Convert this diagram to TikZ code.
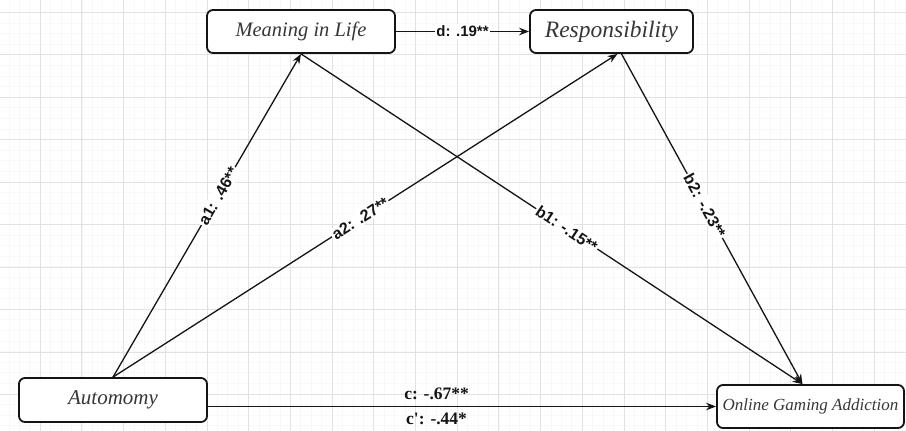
\documentclass[tikz,border=0pt]{standalone}
\usepackage{fontspec}
\setmainfont{Liberation Serif}
\newfontfamily\lblfont{Liberation Sans}
\usepackage{tikz}
\usetikzlibrary{arrows.meta, positioning, calc}
\definecolor{gMajor}{RGB}{226,226,226}
\definecolor{gMinor}{RGB}{248,248,248}
\definecolor{ink}{RGB}{20,20,20}

\begin{document}
\begin{tikzpicture}[x=1pt, y=-1pt,
  varbox/.style={draw=ink, line width=1.8pt, rounded corners=6pt, fill=white,
    inner sep=0pt, font=\itshape\fontsize{20.5}{24}\selectfont, text=ink!85},
  conn/.style={draw=ink, line width=1.3pt, -{Stealth[length=10pt, width=7.5pt]}},
  coef/.style={fill=white, inner sep=1.5pt, font=\lblfont\bfseries\fontsize{16}{18}\selectfont, text=ink},
  coefc/.style={inner sep=1pt, font=\bfseries\fontsize{17.5}{20}\selectfont, text=ink}]
  \useasboundingbox (0,0) rectangle (906,431);
  \fill[white] (0,0) rectangle (906,431);

  % Background grid
  \foreach \gx in {0,...,87} \draw[gMinor, line width=0.4pt] (-1.7+10.425*\gx,0) -- (-1.7+10.425*\gx,431);
  \foreach \gy in {0,...,42} \draw[gMinor, line width=0.4pt] (0,12.1+10.6*\gy) -- (906,12.1+10.6*\gy);
  \foreach \gx in {0,...,21} \draw[gMajor, line width=0.6pt] (40+41.7*\gx,0) -- (40+41.7*\gx,431);
  \foreach \gy in {0,...,9} \draw[gMajor, line width=0.6pt] (0,12+42.5*\gy) -- (906,12+42.5*\gy);

  % Variables
  \node[varbox, minimum width=188pt, minimum height=43pt] (meaning) at (301,31.5) {Meaning in Life};
  \node[varbox, minimum width=163pt, minimum height=43pt, font=\itshape\fontsize{23.5}{27}\selectfont] (resp) at (611.5,31.5) {Responsibility};
  \node[varbox, minimum width=188pt, minimum height=44pt, font=\itshape\fontsize{21}{24}\selectfont] (autonomy) at (113,400) {Automomy};
  \node[varbox, minimum width=187pt, minimum height=43pt, font=\itshape\fontsize{17}{20}\selectfont] (oga) at (810.5,406.5) {Online Gaming Addiction};

  % Paths
  \draw[conn] (meaning.east) -- node[coef, font=\lblfont\bfseries\fontsize{15}{17}\selectfont] {d: .19**} (resp.west);
  \draw[conn] (autonomy.north) -- node[coef, sloped, pos=.56] {a1: .46**} (meaning.south);
  \draw[conn] (autonomy.north) -- node[coef, sloped, pos=.49] {a2: .27**} ([xshift=6pt]resp.south);
  \draw[conn] (meaning.south) -- node[coef, sloped, pos=.53] {b1: -.15**} ([xshift=-8pt]oga.north);
  \draw[conn] ([xshift=10pt]resp.south) -- node[coef, sloped, pos=.46] {b2: -.23**} ([xshift=-8pt]oga.north);
  \draw[conn] (autonomy.east |- oga.west) -- node[coefc, above=5pt, pos=.45] {c: -.67**}
    node[coefc, below=5pt, pos=.45] {c\textquotesingle: -.44*} (oga.west);
\end{tikzpicture}
\end{document}
